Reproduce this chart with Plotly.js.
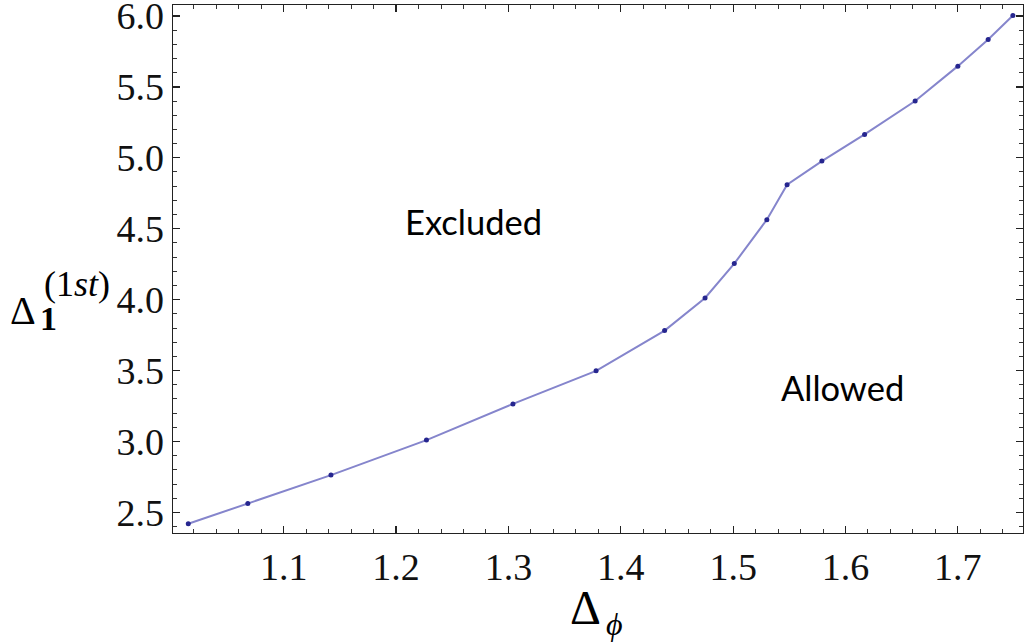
<!DOCTYPE html>
<html>
<head>
<meta charset="utf-8">
<script src="https://cdn.plot.ly/plotly-3.0.1.min.js"></script>
<style>html,body{margin:0;padding:0;background:#fff;}#chart{width:1026px;height:644px;}</style>
</head>
<body>
<div id="chart"></div>
<script>
// Data
const deltaPhi = [1.015, 1.068, 1.142, 1.227, 1.304, 1.378, 1.439, 1.475, 1.501, 1.530, 1.548, 1.579, 1.617, 1.662, 1.700, 1.727, 1.749];
const delta1st = [2.42, 2.563, 2.763, 3.01, 3.265, 3.498, 3.782, 4.012, 4.254, 4.564, 4.81, 4.977, 5.165, 5.40, 5.646, 5.834, 6.003];
const xTickVals = [1.1, 1.2, 1.3, 1.4, 1.5, 1.6, 1.7];
const xTickText = ["1.1", "1.2", "1.3", "1.4", "1.5", "1.6", "1.7"];
const yTickVals = [2.5, 3.0, 3.5, 4.0, 4.5, 5.0, 5.5, 6.0];
const yTickText = ["2.5", "3.0", "3.5", "4.0", "4.5", "5.0", "5.5", "6.0"];
const regionLabels = ["Excluded", "Allowed"];
const regionX = [1.269, 1.597];
const regionY = [4.554, 3.382];

const W = 1026, H = 644;
const M = {l: 173, r: 3, t: 5, b: 111};
const pw = W - M.l - M.r, ph = H - M.t - M.b;
const px = x => (x - M.l) / pw;
const py = y => 1 - (y - M.t) / ph;

const serif = "Liberation Serif, Times New Roman, serif";
const tickFont = {family: serif, size: 38, color: "#111"};

const trace = {
  x: deltaPhi, y: delta1st, type: "scatter", mode: "lines+markers",
  line: {color: "#8585cc", width: 2},
  marker: {color: "#26268f", size: 5},
  hoverinfo: "skip"
};

const axisCommon = {
  showgrid: false, zeroline: false, showline: true, linecolor: "#222", linewidth: 1.3,
  mirror: "allticks", ticks: "inside", ticklen: 7, tickwidth: 1.3, tickcolor: "#222",
  tickmode: "array", tickfont: tickFont, ticklabeloverflow: "allow",
  minor: {ticks: "inside", ticklen: 4, tickwidth: 1, tickcolor: "#333", showgrid: false}
};

const annotations = regionLabels.map((t, i) => ({
  x: regionX[i], y: regionY[i], xref: "x", yref: "y", text: t, showarrow: false,
  font: {family: "Lato, Open Sans, sans-serif", size: 34.5, color: "#000"}
}));

// axis titles built from pieces so sub- and superscripts can stack
annotations.push(
  {x: px(23), y: py(310), xref: "paper", yref: "paper", text: "Δ", showarrow: false,
   font: {family: serif, size: 40, color: "#000"}, xanchor: "center", yanchor: "middle"},
  {x: px(48), y: py(318), xref: "paper", yref: "paper", text: "<b>1</b>", showarrow: false,
   font: {family: serif, size: 34, color: "#000"}, xanchor: "center", yanchor: "middle"},
  {x: px(77), y: py(284), xref: "paper", yref: "paper", text: "(1<i>st</i>)", showarrow: false,
   font: {family: serif, size: 36, color: "#000"}, xanchor: "center", yanchor: "middle"},
  {x: px(585), y: py(607), xref: "paper", yref: "paper", text: "Δ", showarrow: false,
   font: {family: serif, size: 48, color: "#000"}, xanchor: "center", yanchor: "middle"},
  {x: px(614), y: py(624), xref: "paper", yref: "paper", text: "<i>ϕ</i>", showarrow: false,
   font: {family: serif, size: 32, color: "#000"}, xanchor: "center", yanchor: "middle"}
);

const layout = {
  width: W, height: H, margin: M, paper_bgcolor: "#fff", plot_bgcolor: "#fff",
  showlegend: false,
  xaxis: Object.assign({}, axisCommon, {
    range: [1.0014, 1.758], tickvals: xTickVals, ticktext: xTickText,
    minor: Object.assign({}, axisCommon.minor, {dtick: 0.02, tick0: 1.0})
  }),
  yaxis: Object.assign({}, axisCommon, {
    range: [2.355, 6.077], tickvals: yTickVals, ticktext: yTickText,
    minor: Object.assign({}, axisCommon.minor, {dtick: 0.1, tick0: 2.5})
  }),
  annotations: annotations
};

Plotly.newPlot("chart", [trace], layout, {displayModeBar: false, staticPlot: true});
</script>
</body>
</html>
